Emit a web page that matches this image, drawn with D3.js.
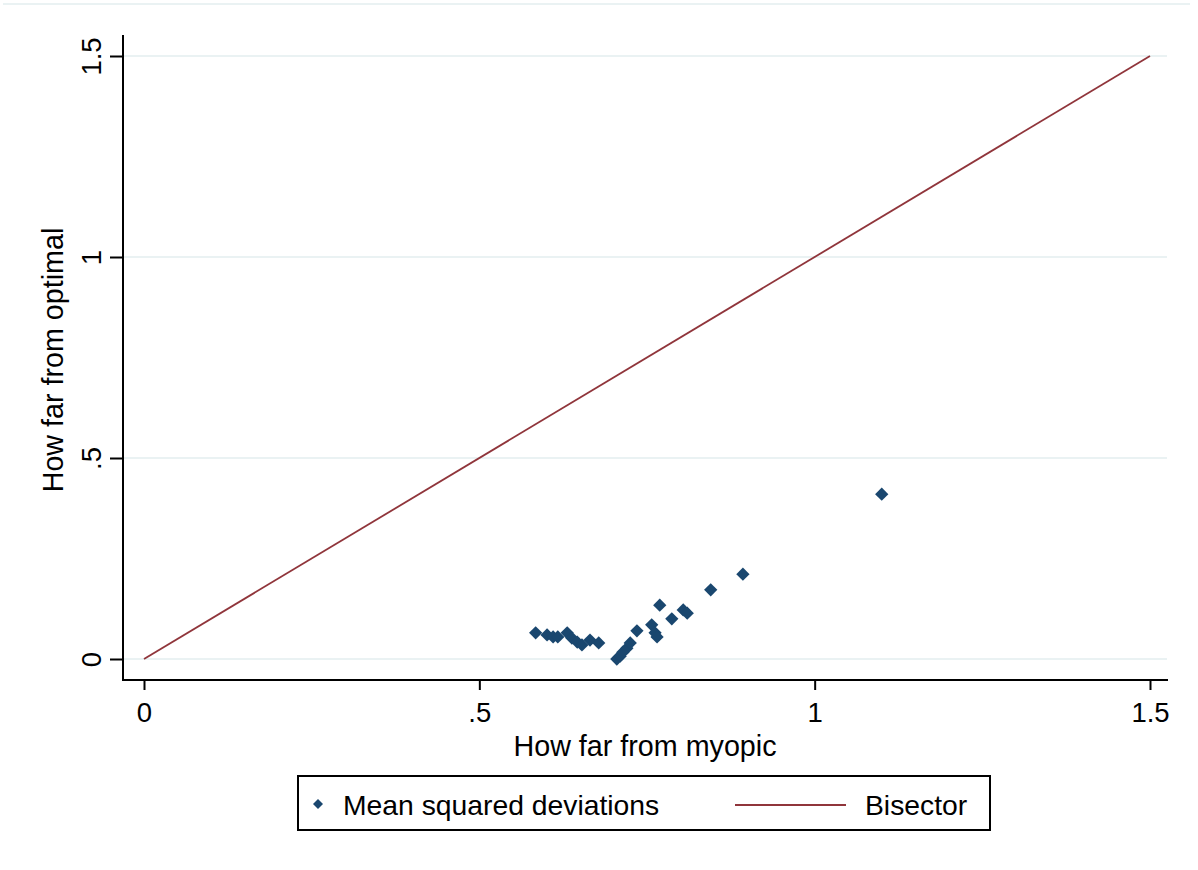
<!DOCTYPE html>
<html>
<head>
<meta charset="utf-8">
<script src="https://cdn.jsdelivr.net/npm/d3@7"></script>
<style>
  body { margin: 0; background: #fff; }
  text { font-family: "Liberation Sans", Arial, sans-serif; fill: #000; }
</style>
</head>
<body>
<script>
// points (how far from myopic, how far from optimal)
const myopic = [0.584, 0.601, 0.610, 0.617, 0.631, 0.638, 0.646, 0.653, 0.665, 0.678,
  0.705, 0.710, 0.714, 0.720, 0.725, 0.735, 0.757, 0.762, 0.765, 0.769,
  0.787, 0.804, 0.810, 0.845, 0.893, 1.100];
const optimal = [0.065, 0.060, 0.055, 0.055, 0.065, 0.052, 0.042, 0.035, 0.047, 0.040,
  0.000, 0.007, 0.017, 0.027, 0.040, 0.070, 0.085, 0.065, 0.055, 0.134,
  0.100, 0.122, 0.114, 0.172, 0.211, 0.410];
const bisectorX = [0, 1.5];
const tickVals = [0, 0.5, 1, 1.5];
const tickLabels = ["0", ".5", "1", "1.5"];

const width = 1198, height = 870;
const navy = "#1a476f", maroon = "#90353b", grid = "#eaf2f3";

const svg = d3.select("body").append("svg")
  .attr("width", width)
  .attr("height", height);

// faint outer frame line at the top
svg.append("line")
  .attr("x1", 3).attr("x2", 1190).attr("y1", 4).attr("y2", 4)
  .attr("stroke", grid).attr("stroke-width", 2);

const x = d3.scaleLinear().domain([0, 1.5]).range([144, 1150]);
const y = d3.scaleLinear().domain([0, 1.5]).range([659, 56]);

// gridlines
svg.append("g")
  .selectAll("line")
  .data(tickVals)
  .join("line")
  .attr("x1", 124).attr("x2", 1167)
  .attr("y1", d => y(d)).attr("y2", d => y(d))
  .attr("stroke", grid).attr("stroke-width", 2);

// axes
const xAxis = svg.append("g")
  .attr("transform", "translate(0,680)")
  .call(d3.axisBottom(x).tickValues(tickVals).tickFormat((d, i) => tickLabels[i]).tickSize(10).tickPadding(12).tickSizeOuter(0));
xAxis.select(".domain").attr("d", "M123,0H1168").attr("stroke", "#000").attr("stroke-width", 2);
xAxis.selectAll(".tick line").attr("stroke", "#000").attr("stroke-width", 2);
xAxis.selectAll(".tick text").attr("font-size", 27.5).attr("font-family", "Liberation Sans, Arial, sans-serif");

const yAxis = svg.append("g")
  .attr("transform", "translate(123,0)")
  .call(d3.axisLeft(y).tickValues(tickVals).tickFormat((d, i) => tickLabels[i]).tickSize(13).tickSizeOuter(0));
yAxis.select(".domain").attr("d", "M0,35V681").attr("stroke", "#000").attr("stroke-width", 2);
yAxis.selectAll(".tick line").attr("stroke", "#000").attr("stroke-width", 2);
yAxis.selectAll(".tick text")
  .attr("font-size", 27.5)
  .attr("font-family", "Liberation Sans, Arial, sans-serif")
  .attr("text-anchor", "middle")
  .attr("x", 0).attr("dy", 0)
  .attr("transform", "translate(-22,0) rotate(-90)");

// axis titles
svg.append("text")
  .attr("x", 645).attr("y", 756)
  .attr("text-anchor", "middle")
  .attr("font-size", 28.7)
  .text("How far from myopic");

svg.append("text")
  .attr("transform", "translate(63,360) rotate(-90)")
  .attr("text-anchor", "middle")
  .attr("font-size", 28.7)
  .text("How far from optimal");

// bisector
svg.append("path")
  .datum(bisectorX)
  .attr("d", d3.line().x(d => x(d)).y(d => y(d)))
  .attr("fill", "none")
  .attr("stroke", maroon)
  .attr("stroke-width", 1.8);

// scatter points as diamonds
const diamond = d3.symbol().type(d3.symbolSquare).size(88);
svg.append("g")
  .selectAll("path")
  .data(myopic.map((d, i) => [d, optimal[i]]))
  .join("path")
  .attr("d", diamond)
  .attr("transform", d => `translate(${x(d[0])},${y(d[1])}) rotate(45)`)
  .attr("fill", navy);

// legend
const legend = svg.append("g");
legend.append("rect")
  .attr("x", 298).attr("y", 776).attr("width", 692).attr("height", 54)
  .attr("fill", "#fff").attr("stroke", "#000").attr("stroke-width", 2);
legend.append("path")
  .attr("d", d3.symbol().type(d3.symbolSquare).size(50))
  .attr("transform", "translate(318,804) rotate(45)")
  .attr("fill", navy);
legend.append("text")
  .attr("x", 343).attr("y", 815)
  .attr("font-size", 28.3)
  .text("Mean squared deviations");
legend.append("line")
  .attr("x1", 735).attr("x2", 846).attr("y1", 805).attr("y2", 805)
  .attr("stroke", maroon).attr("stroke-width", 1.8);
legend.append("text")
  .attr("x", 865).attr("y", 815)
  .attr("font-size", 28.3)
  .text("Bisector");
</script>
</body>
</html>
